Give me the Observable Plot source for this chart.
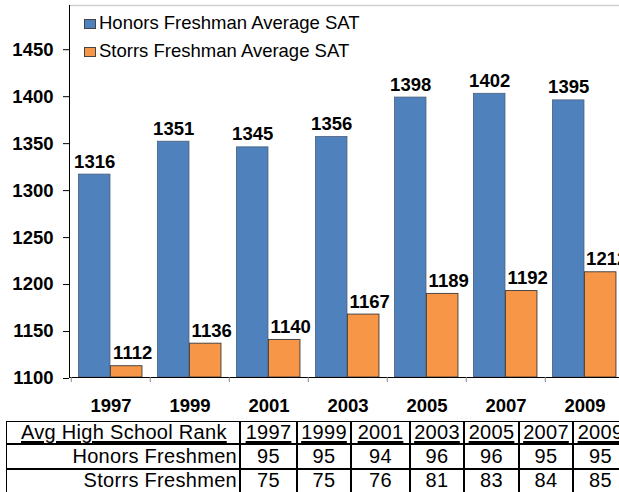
<!DOCTYPE html>
<html>
<head>
<meta charset="utf-8">
<script src="https://cdn.jsdelivr.net/npm/d3@7"></script>
<script src="https://cdn.jsdelivr.net/npm/@observablehq/plot@0.6"></script>
<style>
  html, body { margin: 0; padding: 0; background: #fff; }
  #wrap { position: relative; width: 619px; height: 492px; overflow: hidden;
          font-family: "Liberation Sans", Arial, sans-serif; color: #000; }
  #wrap svg { position: absolute; left: 0; top: 0; }
  .abs { position: absolute; white-space: nowrap; line-height: 1; }
  .swatch { position: absolute; box-sizing: border-box; border: 1px solid #444; }
  .line { position: absolute; background: #000; }
</style>
</head>
<body>
<div id="wrap"></div>
<script>
// ---- data ----
const years = ["1997", "1999", "2001", "2003", "2005", "2007", "2009"];
const honorsSAT = [1316, 1351, 1345, 1356, 1398, 1402, 1395];
const storrsSAT = [1112, 1136, 1140, 1167, 1189, 1192, 1212];
const seriesNames = ["Honors Freshman Average SAT", "Storrs Freshman Average SAT"];
const seriesColors = ["#4F81BD", "#F79646"];
const yTicks = [1100, 1150, 1200, 1250, 1300, 1350, 1400, 1450];

const rankTitle = "Avg High School Rank";
const rankRowLabels = ["Honors Freshmen", "Storrs Freshmen"];
const honorsRank = [95, 95, 94, 96, 96, 95, 95];
const storrsRank = [75, 75, 76, 81, 83, 84, 85];

// ---- layout ----
const FONT = '"Liberation Sans", Arial, sans-serif';
const W = 619, H = 418;
const bandW = (625 - 69) / years.length;

const honorsData = years.map((y, i) => ({year: y, value: honorsSAT[i]}));
const storrsData = years.map((y, i) => ({year: y, value: storrsSAT[i]}));

const chart = Plot.plot({
  width: W, height: H,
  marginLeft: 69, marginRight: -6, marginTop: 5, marginBottom: 41,
  style: {fontFamily: FONT, fontSize: "18.5px", background: "transparent", color: "#000"},
  x: {domain: years, padding: 0},
  y: {domain: [1100, 1496]},
  marks: [
    Plot.frame({anchor: "top", stroke: "#d0d0d0", strokeWidth: 1.5}),
    Plot.barY(honorsData, {x: "year", y1: 1100, y2: "value", fill: seriesColors[0],
      stroke: "#4a5f7a", strokeWidth: 0.8, insetLeft: 7.4, insetRight: bandW - 39.4}),
    Plot.barY(storrsData, {x: "year", y1: 1100, y2: "value", fill: seriesColors[1],
      stroke: "#3a3a3a", strokeWidth: 0.9, insetLeft: 39.4, insetRight: bandW - 71.4}),
    Plot.text(honorsData, {x: "year", y: "value", text: d => String(d.value),
      dx: 23.4 - bandW / 2, dy: -7, lineAnchor: "bottom", fontWeight: "bold", fontSize: 18.5, fill: "#000"}),
    Plot.text(storrsData, {x: "year", y: "value", text: d => String(d.value),
      dx: 55.4 - bandW / 2 + 6, dy: -7, lineAnchor: "bottom", fontWeight: "bold", fontSize: 18.5, fill: "#000"}),
    Plot.frame({anchor: "left", stroke: "#000"}),
    Plot.frame({anchor: "bottom", stroke: "#000"}),
    Plot.axisY({ticks: yTicks, tickSize: 6, tickPadding: 10, label: null,
      fontWeight: "bold", fontSize: 18.5, dy: 1, tickFormat: d => String(d)}),
    Plot.axisX({tickSize: 5, tickFormat: () => "", label: null, dx: -bandW / 2, stroke: "#888"}),
    Plot.axisX({tickSize: 0, tickPadding: 21, label: null, fontWeight: "bold", fontSize: 18.5})
  ]
});

const wrap = document.getElementById("wrap");
wrap.appendChild(chart);

function addText(txt, left, top, opts = {}) {
  const d = document.createElement("div");
  d.className = "abs";
  d.textContent = txt;
  d.style.left = left + "px";
  d.style.top = top + "px";
  Object.assign(d.style, opts);
  wrap.appendChild(d);
  return d;
}
function addLine(left, top, w, h, color = "#000") {
  const d = document.createElement("div");
  d.className = "line";
  d.style.left = left + "px"; d.style.top = top + "px";
  d.style.width = w + "px"; d.style.height = h + "px";
  d.style.background = color;
  wrap.appendChild(d);
}

// ---- legend (inside plot area) ----
seriesNames.forEach((name, i) => {
  const sw = document.createElement("div");
  sw.className = "swatch";
  sw.style.left = "84px";
  sw.style.top = (18.5 + i * 28) + "px";
  sw.style.width = "12px";
  sw.style.height = "10px";
  sw.style.background = seriesColors[i];
  wrap.appendChild(sw);
  addText(name, 99, 13.6 + i * 28, {fontSize: "18.5px"});
});

// ---- table ----
const colEdges = [240, 297, 351, 410, 464, 519, 573, 628];
const TFS = 20;
const rowTops = [422, 445.5, 470];
const tStyle = {fontSize: TFS + "px", letterSpacing: "0.3px"};
addLine(6, 421, 700, 1);
addLine(6, 443, 700, 2);
addLine(6, 468, 700, 2);
addLine(6, 421, 1, 80);
colEdges.forEach(x => addLine(x - 1, 421, 2, 80));

addText(rankTitle, 21, rowTops[0], {...tStyle, textDecoration: "underline", textUnderlineOffset: "2px"});
rankRowLabels.forEach((lab, r) => {
  addText(lab, 0, rowTops[r + 1], {...tStyle, width: "237px", textAlign: "right"});
});
years.forEach((y, i) => {
  const l = colEdges[i], w = colEdges[i + 1] - colEdges[i];
  addText(y, l, rowTops[0], {...tStyle, width: w + "px", textAlign: "center",
    textDecoration: "underline", textDecorationThickness: "2px", textUnderlineOffset: "2px"});
  addText(String(honorsRank[i]), l, rowTops[1], {...tStyle, width: w + "px", textAlign: "center"});
  addText(String(storrsRank[i]), l, rowTops[2], {...tStyle, width: w + "px", textAlign: "center"});
});
</script>
</body>
</html>
